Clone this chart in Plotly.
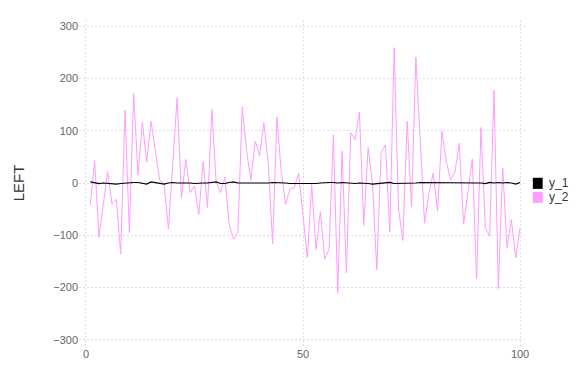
import plotly.graph_objects as go

x_vals = list(range(1, 101))

y_1 = [2, 0, -1, 0, -1, -2, -2, -1, 0, 0,
       1, 1, 0, -2, 2, 1, -1, -2, 0, 1,
       0, 0, 1, 0, -1, 0, 0, 0, 1, 2,
       -1, -1, 1, 2, 0, 0, 0, 0, 0, 0,
       -1, 0, 1, 1, 1, 0, -1, -1, -2, -2,
       -2, -1, -1, 0, 1, 1, 1, 0, 1, 0,
       0, -1, 0, 0, -1, -2, -1, 0, 0, 1,
       -1, -1, 0, 0, 0, 0, 1, 1, 0, 0,
       0, 1, 1, 0, 0, 0, 1, 0, 0, 1,
       0, -1, 1, 0, 1, 0, 1, 0, -2, 1]

y_2 = [-42, 43, -104, -41, 22, -40, -31, -136, 139, -95,
       171, 15, 116, 40, 118, 61, 5, -2, -88, 37,
       163, -28, 45, -18, -6, -60, 41, -47, 141, 1,
       -18, 11, -80, -108, -95, 145, 62, 5, 80, 52,
       115, 37, -116, 126, 20, -41, -12, -9, 19, -62,
       -143, -3, -127, -55, -146, -127, 92, -211, 61, -172,
       96, 83, 136, -81, 68, 0, -166, 59, 73, -94,
       259, -50, -110, 118, -46, 241, 82, -77, -20, 19,
       -54, 99, 42, 6, 21, 76, -79, -18, 46, -183,
       106, -86, -102, 177, -202, 29, -124, -70, -143, -86]

series_names = ["y_1", "y_2"]
series_colors = ["#000000", "#ff9cff"]

fig = go.Figure()
fig.add_trace(go.Scatter(x=x_vals, y=y_2, mode="lines", name=series_names[1],
                         line=dict(color=series_colors[1], width=1), showlegend=False))
fig.add_trace(go.Scatter(x=x_vals, y=y_1, mode="lines", name=series_names[0],
                         line=dict(color=series_colors[0], width=1.2), showlegend=False))

# legend swatches + labels
for i, (nm, col) in enumerate(zip(series_names, series_colors)):
    yc = 0.499 - 0.043 * i
    fig.add_shape(type="rect", xref="paper", yref="paper",
                  x0=1.013, x1=1.035, y0=yc - 0.017, y1=yc + 0.017,
                  fillcolor=col, line=dict(width=0))
    fig.add_annotation(xref="paper", yref="paper", x=1.045, y=yc, text=nm,
                       showarrow=False, xanchor="left", yanchor="middle",
                       font=dict(family="Liberation Sans, Arial", size=12, color="#333333"))

grid_col = "#e0dcee"
fig.update_layout(
    width=576, height=384,
    margin=dict(l=79, r=49, t=20, b=38),
    paper_bgcolor="white", plot_bgcolor="white",
    font=dict(family="Liberation Sans, Arial", size=11, color="#666666"),
    xaxis=dict(range=[-1.6, 101.6], tickvals=[0, 50, 100], showgrid=True,
               gridcolor=grid_col, griddash="2px,2px", gridwidth=1, zeroline=False,
               showline=False, ticks="", tickfont=dict(size=11, color="#666666")),
    yaxis=dict(range=[-312, 312], dtick=100, tick0=0, showgrid=True,
               gridcolor=grid_col, griddash="2px,2px", gridwidth=1, zeroline=False,
               showline=False, ticks="", tickfont=dict(size=11, color="#666666"),
               title=dict(text="LEFT", font=dict(size=15, color="#333333"), standoff=24)),
    showlegend=False,
)

fig.write_html("out.html")
